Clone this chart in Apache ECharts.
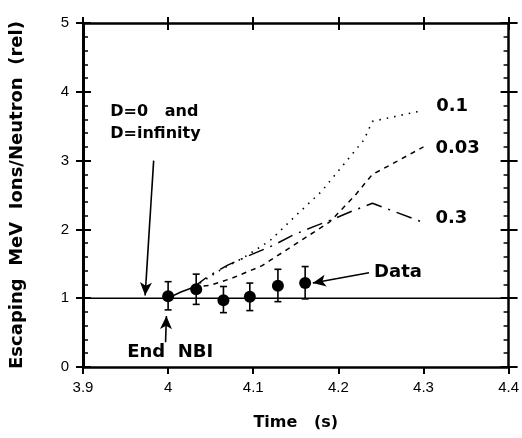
<!DOCTYPE html>
<html>
<head>
<meta charset="utf-8">
<script src="https://cdn.jsdelivr.net/npm/echarts@6/dist/echarts.min.js"></script>
<style>
  html, body { margin: 0; padding: 0; background: #fff; }
  #chart { width: 522px; height: 438px; }
</style>
</head>
<body>
<div id="chart"></div>
<script>
// escaping MeV ions per neutron vs time, measured points + model curves for D values

const xTicks = [3.9, 4.0, 4.1, 4.2, 4.3, 4.4];
const yTicks = [0, 1, 2, 3, 4, 5];

// measured points with error bars
const dataT = [4.0, 4.033, 4.065, 4.096, 4.129, 4.161];
const dataV = [1.03, 1.13, 0.97, 1.02, 1.18, 1.22];
const dataHi = [1.24, 1.35, 1.17, 1.22, 1.42, 1.46];
const dataLo = [0.83, 0.91, 0.79, 0.82, 0.95, 0.99];

// D=0 / D=infinity reference level
const baseT = [3.9, 4.4];
const baseV = [1, 1];

// shared start of the model curves
const commonT = [4.0, 4.015, 4.03];
const commonV = [1.0, 1.09, 1.16];

// model curves, labelled by D
const curve01T = [4.03, 4.06, 4.09, 4.12, 4.15, 4.18, 4.21, 4.23, 4.24, 4.30];
const curve01V = [1.16, 1.40, 1.60, 1.84, 2.20, 2.55, 3.00, 3.30, 3.57, 3.73];

const curve003T = [4.03, 4.05, 4.075, 4.11, 4.125, 4.16, 4.19, 4.22, 4.24, 4.26, 4.30];
const curve003V = [1.16, 1.19, 1.29, 1.47, 1.59, 1.87, 2.11, 2.50, 2.80, 2.93, 3.20];

const curve03T = [4.03, 4.047, 4.07, 4.097, 4.124, 4.147, 4.171, 4.192, 4.215, 4.24, 4.30];
const curve03V = [1.16, 1.32, 1.48, 1.63, 1.77, 1.92, 2.04, 2.14, 2.26, 2.38, 2.10];

// annotation texts (anchor in data units)
const notes = [
    { text: 'D=0   and\nD=infinity', t: 3.932, v: 3.55, size: 16 },
    { text: '0.1', t: 4.315, v: 3.79, size: 18 },
    { text: '0.03', t: 4.314, v: 3.18, size: 18 },
    { text: '0.3', t: 4.314, v: 2.16, size: 18 },
    { text: 'Data', t: 4.242, v: 1.38, size: 18 },
    { text: 'End  NBI', t: 3.952, v: 0.22, size: 18 }
];

// arrows: [from, to] in data units
const arrows = [
    [[3.983, 3.0], [3.973, 1.04]],
    [[3.997, 0.36], [3.998, 0.74]],
    [[4.236, 1.37], [4.170, 1.22]]
];

const pairs = (xs, ys) => xs.map((x, i) => [x, ys[i]]);
const BOLD = 'DejaVu Sans';
const INK = '#000';

const xBase = {
    type: 'value', min: 3.9, max: 4.4, interval: 0.1,
    splitLine: { show: false }
};
const yBase = {
    type: 'value', min: 0, max: 5, interval: 1,
    splitLine: { show: false }
};

const option = {
    backgroundColor: '#fff',
    animation: false,
    grid: { left: 80, right: 11, top: 23, bottom: 71 },
    xAxis: [
        Object.assign({}, xBase, {
            position: 'bottom',
            axisLine: { onZero: false, lineStyle: { color: INK, width: 2.5 } },
            axisTick: { inside: false, length: 7, lineStyle: { color: INK, width: 2 } },
            axisLabel: {
                color: INK, fontSize: 15, fontFamily: 'Liberation Sans', margin: 13,
                formatter: v => String(Math.round(v * 10) / 10)
            },
            name: 'Time   (s)', nameLocation: 'middle', nameGap: 48,
            nameTextStyle: { color: INK, fontSize: 16, fontWeight: 'bold', fontFamily: BOLD }
        }),
        Object.assign({}, xBase, {
            position: 'top',
            axisLine: { onZero: false, lineStyle: { color: INK, width: 2.5 } },
            axisTick: { inside: true, length: 7, lineStyle: { color: INK, width: 2 } },
            axisLabel: { show: false }
        }),
        Object.assign({}, xBase, {
            position: 'top',
            axisLine: { show: false, onZero: false },
            axisTick: { inside: false, length: 6, lineStyle: { color: INK, width: 2 } },
            axisLabel: { show: false }
        })
    ],
    yAxis: [
        Object.assign({}, yBase, {
            position: 'left',
            axisLine: { show: true, onZero: false, lineStyle: { color: INK, width: 3 } },
            axisTick: { show: true, inside: true, length: 8, lineStyle: { color: INK, width: 2 } },
            minorTick: { show: true, splitNumber: 5, length: 5, lineStyle: { color: INK, width: 1.5 } },
            axisLabel: { color: INK, fontSize: 15, fontFamily: 'Liberation Sans', margin: 14 },
            name: 'Escaping  MeV  Ions/Neutron  (rel)', nameLocation: 'middle', nameGap: 57,
            nameTextStyle: { color: INK, fontSize: 18, fontWeight: 'bold', fontFamily: BOLD }
        }),
        Object.assign({}, yBase, {
            position: 'left',
            axisLine: { show: false, onZero: false },
            axisTick: { show: true, inside: false, length: 7, lineStyle: { color: INK, width: 2 } },
            axisLabel: { show: false }
        }),
        Object.assign({}, yBase, {
            position: 'right',
            axisLine: { show: true, onZero: false, lineStyle: { color: INK, width: 2.5 } },
            axisTick: { show: true, inside: true, length: 8, lineStyle: { color: INK, width: 2 } },
            minorTick: { show: true, splitNumber: 5, length: 5, lineStyle: { color: INK, width: 1.5 } },
            axisLabel: { show: false }
        }),
        Object.assign({}, yBase, {
            position: 'right',
            axisLine: { show: false, onZero: false },
            axisTick: { show: true, inside: false, length: 9, lineStyle: { color: INK, width: 2 } },
            axisLabel: { show: false }
        })
    ],
    series: [
        {
            name: 'base', type: 'line', data: pairs(baseT, baseV),
            showSymbol: false, silent: true,
            lineStyle: { color: INK, width: 1.5 }
        },
        {
            name: 'common', type: 'line', data: pairs(commonT, commonV),
            showSymbol: false, silent: true,
            lineStyle: { color: INK, width: 1.5 }
        },
        {
            name: '0.1', type: 'line', data: pairs(curve01T, curve01V),
            showSymbol: false, silent: true,
            lineStyle: { color: INK, width: 1.6, type: [1.5, 6] }
        },
        {
            name: '0.03', type: 'line', data: pairs(curve003T, curve003V),
            showSymbol: false, silent: true,
            lineStyle: { color: INK, width: 1.5, type: [5, 5] }
        },
        {
            name: '0.3', type: 'line', data: pairs(curve03T, curve03V),
            showSymbol: false, silent: true,
            lineStyle: { color: INK, width: 1.5, type: [16, 7, 2, 7] }
        },
        {
            name: 'errors', type: 'custom',
            data: dataT.map((t, i) => [t, dataLo[i], dataHi[i]]),
            encode: { x: 0, y: [1, 2] },
            renderItem: (params, api) => {
                const top = api.coord([api.value(0), api.value(2)]);
                const bot = api.coord([api.value(0), api.value(1)]);
                const w = 3.5;
                const st = { stroke: INK, lineWidth: 1.6 };
                return {
                    type: 'group',
                    children: [
                        { type: 'line', shape: { x1: top[0], y1: top[1], x2: bot[0], y2: bot[1] }, style: st },
                        { type: 'line', shape: { x1: top[0] - w, y1: top[1], x2: top[0] + w, y2: top[1] }, style: st },
                        { type: 'line', shape: { x1: bot[0] - w, y1: bot[1], x2: bot[0] + w, y2: bot[1] }, style: st }
                    ]
                };
            }
        },
        {
            name: 'Data', type: 'scatter', data: pairs(dataT, dataV),
            symbol: 'circle', symbolSize: 12,
            itemStyle: { color: INK, opacity: 1 },
            markLine: {
                silent: true, symbol: ['none', 'arrow'], symbolSize: [9, 13],
                lineStyle: { color: INK, width: 1.6, type: 'solid' },
                label: { show: false },
                data: arrows.map(a => [{ coord: a[0] }, { coord: a[1] }])
            }
        },
        {
            name: 'notes', type: 'scatter', symbolSize: 0, silent: true,
            itemStyle: { opacity: 1 },
            data: notes.map(n => ({
                value: [n.t, n.v],
                label: {
                    show: true, position: 'right', distance: 0,
                    formatter: n.text, color: INK, opacity: 1,
                    fontSize: n.size, fontWeight: 'bold', fontFamily: BOLD,
                    lineHeight: 22, align: 'left'
                }
            }))
        }
    ]
};

const myChart = echarts.init(document.getElementById('chart'));
myChart.setOption(option);
</script>
</body>
</html>
